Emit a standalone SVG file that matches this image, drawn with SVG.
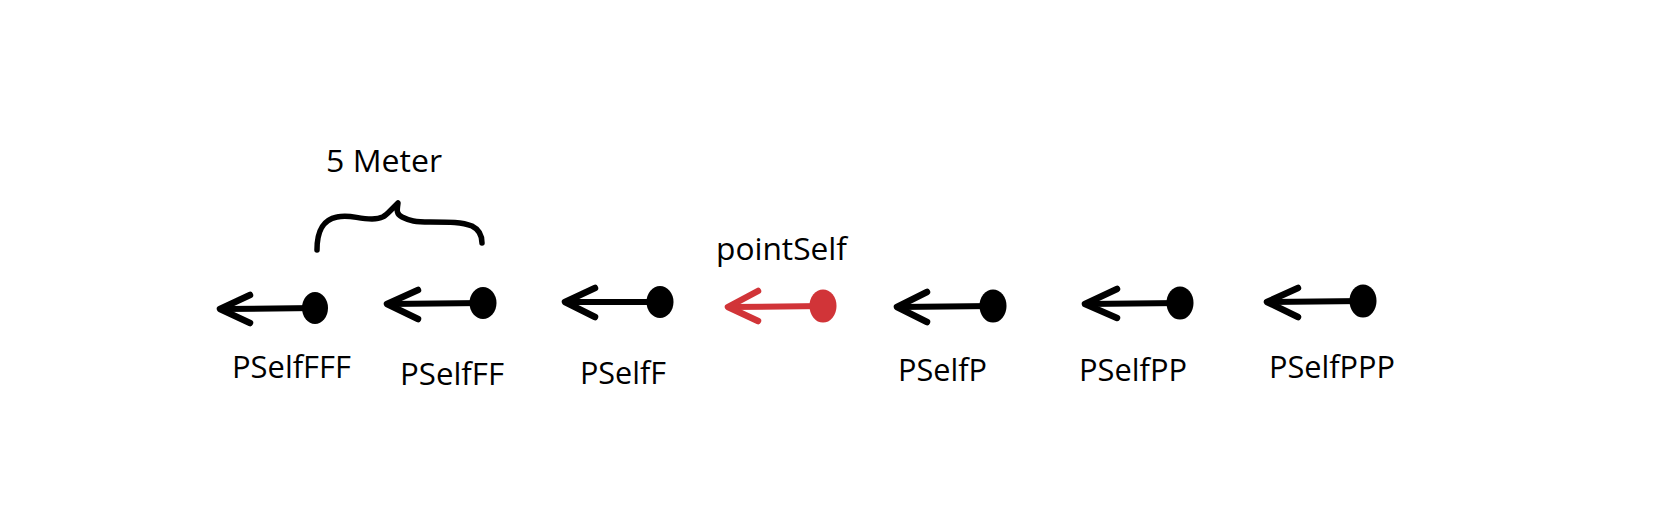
<svg xmlns="http://www.w3.org/2000/svg" width="1670" height="518" viewBox="0 0 1670 518">
<style>
.shaft{fill:none;stroke:#000;stroke-width:6;stroke-linecap:round}
.head{fill:none;stroke:#000;stroke-width:6.5;stroke-linecap:round;stroke-linejoin:round}
.dot{fill:#000}
.red .shaft,.red .head{stroke:#d13438}
.red .dot{fill:#d13438}
.lbl{font-family:"Open Sans","Liberation Sans",sans-serif;font-size:31px;fill:#000}
.brace{fill:none;stroke:#000;stroke-width:5.5;stroke-linecap:round;stroke-linejoin:round}
</style>
<rect width="1670" height="518" fill="#fff"/>
<g id="measure">
<path class="brace" d="M317,250 C317,232 322,220 337,217 C350,214 357,219 372,219 C382,219 385,216 390,211 L398,203 C397,210 396,214 402,217 C410,221 415,222 430,222 C450,222 462,222 472,226 C480,230 482,236 482,243"/>
<text class="lbl" x="326" y="172" textLength="116" lengthAdjust="spacingAndGlyphs">5 Meter</text>
</g>
<g id="connectors"/>
<g id="PSelfFFF">
<line class="shaft" x1="222" y1="309" x2="315" y2="308"/>
<polyline class="head" points="250,295 220,309 250,323"/>
<ellipse class="dot" cx="315" cy="308" rx="13" ry="16"/>
<text class="lbl" x="232" y="378" textLength="119" lengthAdjust="spacingAndGlyphs">PSelfFFF</text>
</g>
<g id="PSelfFF">
<line class="shaft" x1="389" y1="304" x2="483" y2="303"/>
<polyline class="head" points="418,290 387,304 418,319"/>
<ellipse class="dot" cx="483" cy="303" rx="13.5" ry="16"/>
<text class="lbl" x="400" y="385" textLength="104" lengthAdjust="spacingAndGlyphs">PSelfFF</text>
</g>
<g id="PSelfF">
<line class="shaft" x1="567" y1="302" x2="660" y2="302"/>
<polyline class="head" points="595,288 565,302 595,317"/>
<ellipse class="dot" cx="660" cy="302" rx="13.5" ry="16"/>
<text class="lbl" x="580" y="384" textLength="86" lengthAdjust="spacingAndGlyphs">PSelfF</text>
</g>
<g id="pointSelf" class="red">
<line class="shaft" x1="730" y1="307" x2="823" y2="306"/>
<polyline class="head" points="758,291 728,307 758,321"/>
<ellipse class="dot" cx="823" cy="306" rx="13.5" ry="16.5"/>
<text class="lbl" x="716" y="260" textLength="131" lengthAdjust="spacingAndGlyphs">pointSelf</text>
</g>
<g id="PSelfP">
<line class="shaft" x1="899" y1="307" x2="993" y2="306"/>
<polyline class="head" points="927,292 897,307 927,322"/>
<ellipse class="dot" cx="993" cy="306" rx="13.5" ry="16.5"/>
<text class="lbl" x="898" y="381" textLength="89" lengthAdjust="spacingAndGlyphs">PSelfP</text>
</g>
<g id="PSelfPP">
<line class="shaft" x1="1087" y1="304" x2="1180" y2="303"/>
<polyline class="head" points="1117,289 1085,304 1117,318"/>
<ellipse class="dot" cx="1180" cy="303" rx="13.5" ry="16.5"/>
<text class="lbl" x="1079" y="381" textLength="108" lengthAdjust="spacingAndGlyphs">PSelfPP</text>
</g>
<g id="PSelfPPP">
<line class="shaft" x1="1269" y1="302" x2="1363" y2="301"/>
<polyline class="head" points="1298,288 1267,302 1298,317"/>
<ellipse class="dot" cx="1363" cy="301" rx="13.5" ry="16.5"/>
<text class="lbl" x="1269" y="378" textLength="126" lengthAdjust="spacingAndGlyphs">PSelfPPP</text>
</g>
</svg>
